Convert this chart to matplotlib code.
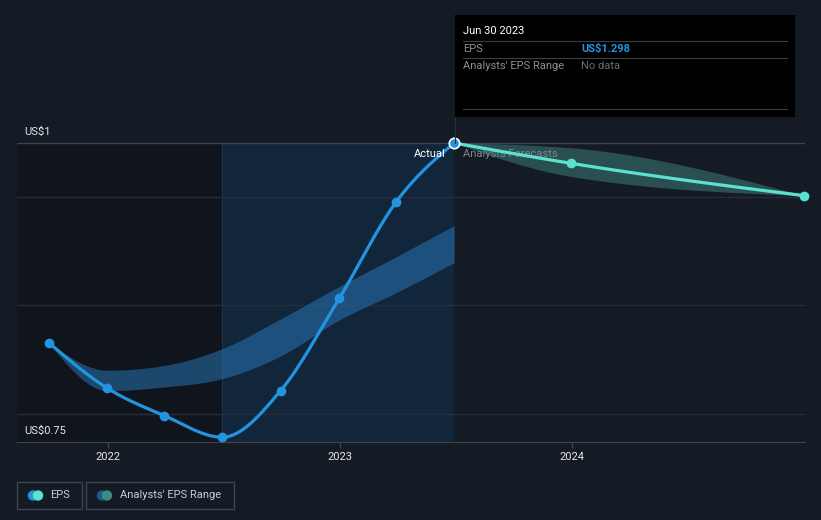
import numpy as np
import matplotlib
matplotlib.use("Agg")
import matplotlib.pyplot as plt
import matplotlib.dates as mdates
from matplotlib.patches import Rectangle, Ellipse
from matplotlib.transforms import blended_transform_factory

plt.rcParams['font.family'] = ['Roboto', 'DejaVu Sans']

# EPS history (quarterly)
eps_dates = ["2021-09-30", "2021-12-31", "2022-03-31", "2022-06-30",
             "2022-09-30", "2022-12-31", "2023-03-31", "2023-06-30"]
eps_values = [0.833, 0.795, 0.772, 0.754, 0.793, 0.870, 0.951, 1.000]
range_high = [0.833, 0.810, 0.814, 0.828, 0.853, 0.880, 0.905, 0.931]
range_low = [0.833, 0.793, 0.796, 0.803, 0.822, 0.852, 0.875, 0.900]

# analysts forecasts
fc_dates = ["2023-06-30", "2023-12-31", "2024-12-31"]
fc_values = [1.000, 0.983, 0.956]
fc_high = [1.000, 0.996, 0.956]
fc_low = [1.000, 0.972, 0.956]

grid_levels = [1.0, 0.9548, 0.8645, 0.7734]
year_ticks = ["2022-01-01", "2023-01-01", "2024-01-01"]
year_labels = ["2022", "2023", "2024"]

BG = "#151b25"
BLUE = "#2394df"
TEAL = "#5ce1cf"
FS = 8


def monotone(xs, ys, n=40):
    # d3 curveMonotoneX style smoothing
    xs = np.asarray(xs, float)
    ys = np.asarray(ys, float)
    h = np.diff(xs)
    s = np.diff(ys) / h
    m = np.zeros_like(ys)
    for i in range(1, len(xs) - 1):
        p = (s[i - 1] * h[i] + s[i] * h[i - 1]) / (h[i - 1] + h[i])
        m[i] = (np.sign(s[i - 1]) + np.sign(s[i])) * min(abs(s[i - 1]), abs(s[i]), 0.5 * abs(p))
    if len(xs) > 2:
        m[0] = (3 * s[0] - m[1]) / 2
        m[-1] = (3 * s[-1] - m[-2]) / 2
    else:
        m[0] = m[-1] = s[0]
    outx, outy = [], []
    for i in range(len(xs) - 1):
        t = np.linspace(0, 1, n)
        h00 = 2 * t**3 - 3 * t**2 + 1
        h10 = t**3 - 2 * t**2 + t
        h01 = -2 * t**3 + 3 * t**2
        h11 = t**3 - t**2
        outx.append(xs[i] + t * h[i])
        outy.append(h00 * ys[i] + h10 * h[i] * m[i] + h01 * ys[i + 1] + h11 * h[i] * m[i + 1])
    return np.concatenate(outx), np.concatenate(outy)


W, H = 821, 520
fig = plt.figure(figsize=(W / 100, H / 100), dpi=100, facecolor=BG)
ax = fig.add_axes([17 / W, 78 / H, 788 / W, 299 / H])
ax.set_facecolor(BG)

ex = mdates.datestr2num(eps_dates)
fx = mdates.datestr2num(fc_dates)
yt = mdates.datestr2num(year_ticks)

ax.set_xlim(yt[0] - 143, yt[2] + 367)
ax.set_ylim(0.75, 1.0)

# background regions
ax.axvspan(ax.get_xlim()[0], ex[3], color="#10151d", zorder=0, lw=0)
ax.axvspan(ex[3], ex[-1], color="#12263b", zorder=0, lw=0)
ax.axvline(ex[3], color="#1f3348", lw=0.8, zorder=1)

for i, g in enumerate(grid_levels):
    ax.axhline(g, color="#40464f" if i == 0 else "#262d38", lw=1, zorder=1)

# analysts' range bands
bx, bh = monotone(ex, range_high)
_, bl = monotone(ex, range_low)
ax.fill_between(bx, bl, bh, color="#2a7bc0", alpha=0.5, lw=0, zorder=2)
fbx, fbh = monotone(fx, fc_high)
_, fbl = monotone(fx, fc_low)
ax.fill_between(fbx, fbl, fbh, color="#4fb3a6", alpha=0.35, lw=0, zorder=2)

# EPS lines
lx, ly = monotone(ex, eps_values)
ax.plot(lx, ly, color=BLUE, lw=2.3, zorder=4, solid_capstyle="round")
ax.plot(ex[:-1], eps_values[:-1], "o", color=BLUE, ms=6, zorder=5, clip_on=False)
flx, fly = monotone(fx, fc_values)
ax.plot(flx, fly, color=TEAL, lw=2.3, zorder=4, clip_on=False)
ax.plot(fx[1:], fc_values[1:], "o", color=TEAL, ms=6, zorder=5, clip_on=False)
ax.plot(ex[-1], eps_values[-1], "o", color=BLUE, mec="white", mew=1.2, ms=7.5,
        zorder=6, clip_on=False)

# axes styling
for sp in ["top", "left", "right"]:
    ax.spines[sp].set_visible(False)
ax.spines["bottom"].set_color("#3d434c")
ax.set_yticks([])
ax.set_xticks(yt)
ax.set_xticklabels(year_labels)
ax.tick_params(axis="x", colors="#3d434c", length=4, width=1, pad=3, labelcolor="#e6e6e6",
               labelsize=FS)

tr = blended_transform_factory(ax.transAxes, ax.transData)
ax.annotate("US$1", (0.009, 1.0), xycoords=tr, xytext=(0, 4), textcoords="offset points",
            color="#e6e6e6", fontsize=FS, va="bottom")
ax.annotate("US$0.75", (0.009, 0.75), xycoords=tr, xytext=(0, 4), textcoords="offset points",
            color="#e6e6e6", fontsize=FS, va="bottom")
ax.annotate("Actual", (ex[-1], 1.0), xytext=(-6, -8), textcoords="offset points",
            color="white", fontsize=FS, ha="right", va="center", zorder=7)
ax.annotate("Analysts Forecasts", (ex[-1], 1.0), xytext=(6, -8), textcoords="offset points",
            color="#7f858e", fontsize=FS, ha="left", va="center", zorder=3)

# overlay in pixel coordinates for tooltip and legend
ov = fig.add_axes([0, 0, 1, 1], facecolor="none")
ov.set_xlim(0, W)
ov.set_ylim(H, 0)
ov.axis("off")

ov.plot([455, 455], [117, 143], color="#1f3348", lw=0.8)
ov.add_patch(Rectangle((455, 15), 340, 102, facecolor="black", edgecolor="none"))
for y in [41, 58, 109]:
    ov.plot([463, 787], [y, y], color="#3b3f45", lw=0.8)
ov.text(463, 31, "Jun 30 2023", color="white", fontsize=FS, va="center")
ov.text(463, 49, "EPS", color="#8a8f98", fontsize=FS, va="center")
ov.text(581, 49, "US$1.298", color=BLUE, fontsize=FS, va="center", fontweight="bold")
ov.text(463, 66, "Analysts' EPS Range", color="#8a8f98", fontsize=FS, va="center")
ov.text(581, 66, "No data", color="#686d75", fontsize=FS, va="center")

ov.add_patch(Rectangle((17, 482), 65, 27, facecolor="none", edgecolor="#40464f", lw=1))
ov.add_patch(Rectangle((86, 482), 148, 27, facecolor="none", edgecolor="#40464f", lw=1))
ov.add_patch(Ellipse((33, 495.5), 9, 9, color=BLUE))
ov.add_patch(Ellipse((38, 495.5), 9, 9, color=TEAL))
ov.add_patch(Ellipse((102, 495.5), 9, 9, color="#1f5b8a"))
ov.add_patch(Ellipse((107, 495.5), 9, 9, color="#3d8a80"))
ov.text(50, 495.5, "EPS", color="#c8ccd2", fontsize=FS, va="center")
ov.text(120, 495.5, "Analysts' EPS Range", color="#c8ccd2", fontsize=FS, va="center")

fig.savefig("out.png", dpi=100, facecolor=BG)
